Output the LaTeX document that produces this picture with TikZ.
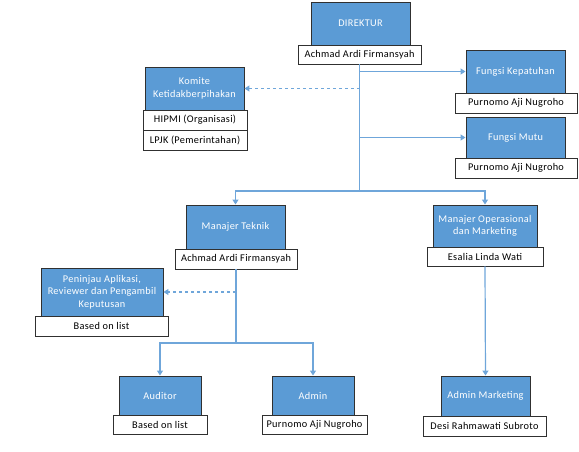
\documentclass[tikz,border=0pt]{standalone}
\usepackage{fontspec}
\setmainfont{Carlito}[LetterSpace=3]
\usepackage{xcolor}
\usetikzlibrary{positioning,calc,arrows.meta,shadows}
\definecolor{unitblue}{HTML}{5B9BD5}
\definecolor{linkblue}{HTML}{6FA6DA}
\definecolor{edge}{HTML}{303030}

\begin{document}
\begin{tikzpicture}[x=1pt,y=-1pt,
    unit/.style={draw=edge, line width=0.9pt, fill=unitblue, text=white, align=center,
        font=\fontsize{10.3}{12.5}\selectfont, inner sep=1pt},
    person/.style={draw=edge, line width=0.9pt, fill=white, align=center,
        font=\fontsize{10.3}{12.5}\selectfont, inner sep=1pt,
        drop shadow={shadow xshift=1pt, shadow yshift=-1pt, opacity=0.35}},
    link/.style={draw=linkblue, line width=1.2pt},
    tip/.style={-{Triangle[width=6pt,length=5pt]}}]
    \useasboundingbox (0,0) rectangle (579,452);

    % top level
    \node[unit, minimum width=99pt, minimum height=43pt] (dir) at (360.5,23.5) {DIREKTUR};
    \node[person, minimum width=123pt, minimum height=19pt] (dirN) at (359.5,54.5) {Achmad Ardi Firmansyah};

    \node[unit, minimum width=99pt, minimum height=43pt] (komite) at (194.5,88.5) {Komite\\Ketidakberpihakan};
    \node[person, minimum width=104pt, minimum height=20pt] (hipmi) at (195,120) {HIPMI (Organisasi)};
    \node[person, minimum width=104pt, minimum height=20pt] (lpjk) at (195,140) {LPJK (Pemerintahan)};

    \node[unit, minimum width=99pt, minimum height=43pt] (patuh) at (515.5,71.5) {Fungsi Kepatuhan};
    \node[person, minimum width=122pt, minimum height=20pt] (patuhN) at (516,103) {Purnomo Aji Nugroho};

    \node[unit, minimum width=99pt, minimum height=41pt] (mutu) at (515.5,137.5) {Fungsi Mutu};
    \node[person, minimum width=122pt, minimum height=20pt] (mutuN) at (516,168) {Purnomo Aji Nugroho};

    % managers
    \node[unit, minimum width=99pt, minimum height=44pt] (teknik) at (235.5,227) {Manajer Teknik};
    \node[person, minimum width=122pt, minimum height=20pt] (teknikN) at (236,259) {Achmad Ardi Firmansyah};

    \node[unit, minimum width=104pt, minimum height=42pt] (ops) at (485,226) {Manajer Operasional\\dan Marketing};
    \node[person, minimum width=116pt, minimum height=19pt] (opsN) at (485,256.5) {Esalia Linda Wati};

    \node[unit, minimum width=122pt, minimum height=48pt] (tinjau) at (102,292) {Peninjau Aplikasi,\\Reviewer dan Pengambil\\Keputusan};
    \node[person, minimum width=133pt, minimum height=20pt] (tinjauN) at (101.5,326) {Based on list};

    % staff
    \node[unit, minimum width=82pt, minimum height=39pt] (audit) at (160,395.5) {Auditor};
    \node[person, minimum width=94pt, minimum height=19pt] (auditN) at (160,424.5) {Based on list};

    \node[unit, minimum width=82pt, minimum height=39pt] (admin) at (313,395.5) {Admin};
    \node[person, minimum width=105pt, minimum height=19pt] (adminN) at (314.5,424.5) {Purnomo Aji Nugroho};

    \node[unit, minimum width=89pt, minimum height=40pt] (adminM) at (485.5,396) {Admin Marketing};
    \node[person, minimum width=123pt, minimum height=20pt] (adminMN) at (484.5,426) {Desi Rahmawati Subroto};

    % connectors
    \coordinate (split1) at (dirN.south |- 0,191);
    \coordinate (split2) at (teknikN.south |- 0,343);
    \draw[link] (dirN.south) -- (split1);
    \draw[link, tip] (dirN.south |- patuh.west) -- (patuh.west);
    \draw[link, tip] (dirN.south |- mutu.west) -- (mutu.west);
    \draw[link, tip, dashed] (dirN.south |- komite.east) -- (komite.east);
    \draw[link, tip] (split1) -| (teknik.north);
    \draw[link, tip] (split1) -| (ops.north);

    \draw[link] (teknikN.south) -- (split2);
    \draw[link, tip, dashed] (teknikN.south |- tinjau.east) -- (tinjau.east);
    \draw[link, tip] (split2) -| (audit.north);
    \draw[link, tip] (split2) -| (admin.north);

    \draw[link, tip] (opsN.south) -- (adminM.north);
\end{tikzpicture}
\end{document}
